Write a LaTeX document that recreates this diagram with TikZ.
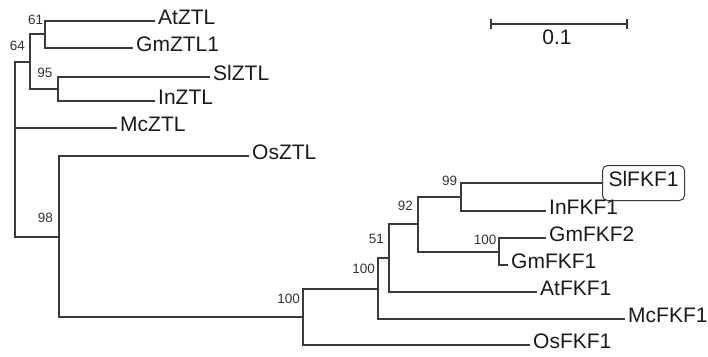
\documentclass[tikz,border=0pt]{standalone}
\usepackage{fontspec}
\setmainfont{Liberation Sans}
\definecolor{treeline}{HTML}{3A3A3A}
\definecolor{labeltext}{HTML}{1A1A1A}
\definecolor{boottext}{HTML}{333333}
\begin{document}
\begin{tikzpicture}[x=1pt,y=-1pt,
  branch/.style={draw=treeline, line width=1.3pt},
  leaf/.style={anchor=west, inner xsep=3pt, inner ysep=0pt,
    font=\fontsize{21}{24}\selectfont, text=labeltext,
    text height=0.72em, text depth=0pt},
  boot/.style={anchor=east, inner sep=0pt,
    font=\fontsize{13.5}{15}\selectfont, text=boottext,
    text height=0.72em, text depth=0pt},
]
\useasboundingbox (0,0) rectangle (708,356);

% internal nodes of the tree (x of the vertical bar, y where the parent joins)
\coordinate (root)  at (15,149);
\coordinate (n64)   at (30,62);
\coordinate (n61)   at (45,34);
\coordinate (n95)   at (58,89);
\coordinate (n98)   at (59,237);
\coordinate (nF)    at (303,317);
\coordinate (n100b) at (378,289);
\coordinate (n51)   at (389,258);
\coordinate (n92)   at (418,224);
\coordinate (n99)   at (461,197);
\coordinate (nGm)   at (499,252);

% leaves
\node[leaf] (AtZTL)  at (155,21)  {AtZTL};
\node[leaf] (GmZTL1) at (133,48)  {GmZTL1};
\node[leaf] (SlZTL)  at (210,77)  {SlZTL};
\node[leaf] (InZTL)  at (155,101) {InZTL};
\node[leaf] (McZTL)  at (117,128) {McZTL};
\node[leaf] (OsZTL)  at (249,156) {OsZTL};
\node[leaf, draw=treeline, line width=1pt, rounded corners=5pt,
  inner xsep=6pt, minimum height=35pt] (SlFKF1) at (602,183) {SlFKF1};
\node[leaf] (InFKF1) at (546,211) {InFKF1};
\node[leaf] (GmFKF2) at (546,238) {GmFKF2};
\node[leaf] (GmFKF1) at (508,265) {GmFKF1};
\node[leaf] (AtFKF1) at (537,292) {AtFKF1};
\node[leaf] (McFKF1) at (625,319) {McFKF1};
\node[leaf] (OsFKF1) at (530,345) {OsFKF1};

% branches
\draw[branch] (root) |- (n64);
\draw[branch] (root) |- (McZTL.west);
\draw[branch] (root) |- (n98);
\draw[branch] (n64) |- (n61);
\draw[branch] (n64) |- (n95);
\draw[branch] (n61) |- (AtZTL.west);
\draw[branch] (n61) |- (GmZTL1.west);
\draw[branch] (n95) |- (SlZTL.west);
\draw[branch] (n95) |- (InZTL.west);
\draw[branch] (n98) |- (OsZTL.west);
\draw[branch] (n98) |- (nF);
\draw[branch] (nF) |- (n100b);
\draw[branch] (nF) |- (OsFKF1.west);
\draw[branch] (n100b) |- (n51);
\draw[branch] (n100b) |- (McFKF1.west);
\draw[branch] (n51) |- (n92);
\draw[branch] (n51) |- (AtFKF1.west);
\draw[branch] (n92) |- (n99);
\draw[branch] (n92) |- (nGm);
\draw[branch] (n99) |- (SlFKF1.west);
\draw[branch] (n99) |- (InFKF1.west);
\draw[branch] (nGm) |- (GmFKF2.west);
\draw[branch] (nGm) |- (GmFKF1.west);

% bootstrap values
\node[boot] (b61)   at (43.3,20.8) {61};
\node[boot] (b64)   at (25,46.7)   {64};
\node[boot] (b95)   at (52.7,74.2) {95};
\node[boot] (b98)   at (53,219)    {98};
\node[boot] (bF)    at (300,300)   {100};
\node[boot] (b100b) at (375,270)   {100};
\node[boot] (b51)   at (384,240)   {51};
\node[boot] (b92)   at (413,207)   {92};
\node[boot] (b99)   at (457.3,182) {99};
\node[boot] (bGm)   at (496.7,241) {100};

% scale bar
\coordinate (sbL) at (491,24);
\coordinate (sbR) at (627,24);
\draw[branch, line width=1.5pt] (sbL) -- (sbR);
\draw[branch] ([yshift=5pt]sbL) -- ([yshift=-5pt]sbL);
\draw[branch] ([yshift=5pt]sbR) -- ([yshift=-5pt]sbR);
\node[font=\fontsize{21}{24}\selectfont, text=labeltext, inner sep=0pt,
  text height=0.72em, text depth=0pt] (sblabel) at (557,41) {0.1};
\end{tikzpicture}
\end{document}
